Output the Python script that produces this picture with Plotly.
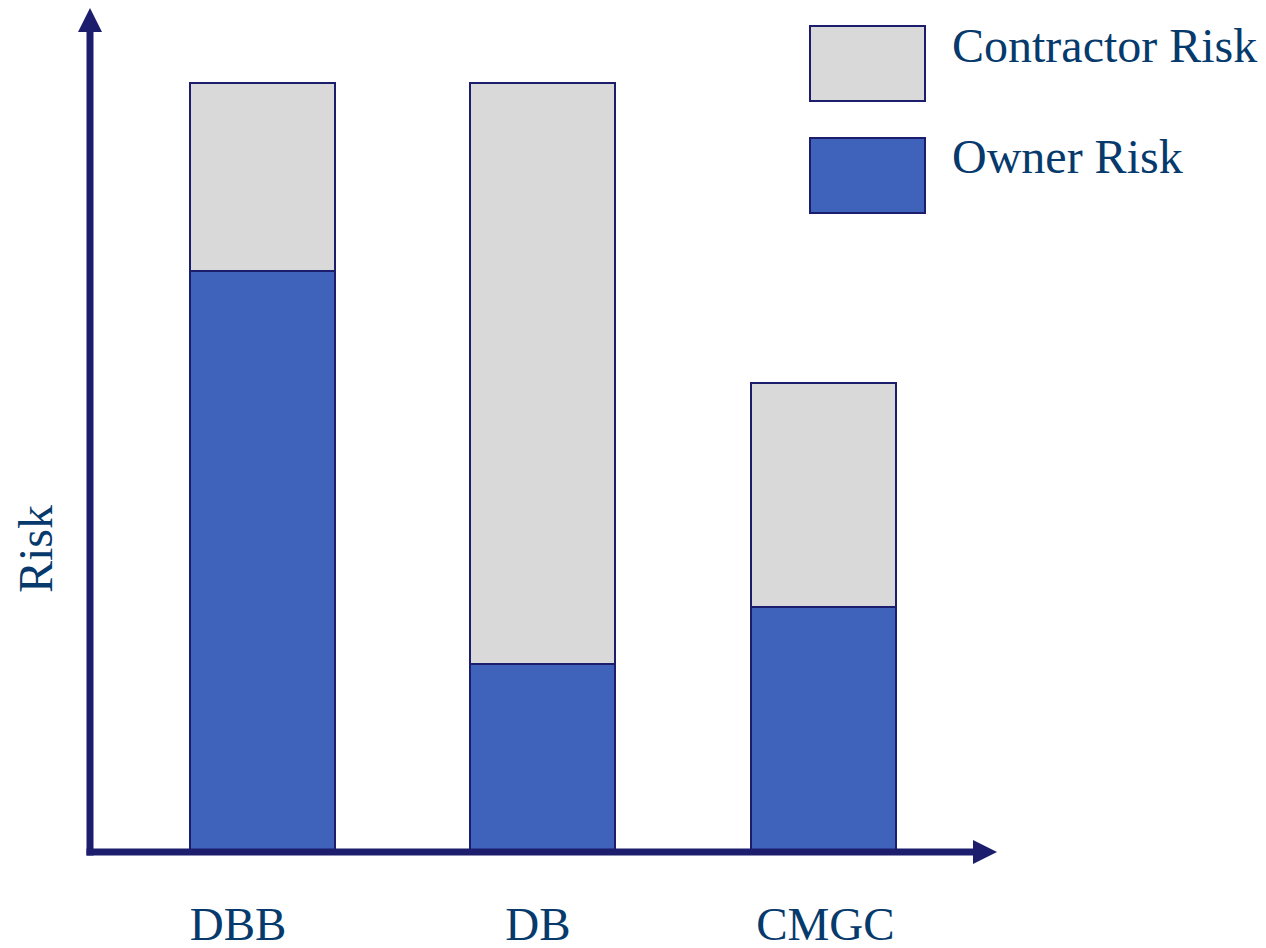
import plotly.graph_objects as go

categories = ["DBB", "DB", "CMGC"]
owner_risk = [75.6, 24.4, 31.8]
contractor_risk = [24.4, 75.6, 29.2]
series_names = ["Contractor Risk", "Owner Risk"]
y_title = "Risk"
label_positions = [-0.087, 0.982, 2.007]  # where the category captions sit (category units)

NAVY = "#1d1d6e"
TEXT = "#063a6c"
BLUE = "#3f62ba"
GREY = "#d9d9d9"
FONT = "Liberation Serif"

W, H = 1266, 948
# plot area in page pixels: x 90..997, y 8..852
L = 90
R = W - 997
T = 8
B = H - 852
PW, PH = W - L - R, H - T - B
XR = [-0.615, 2.619]
xs = list(range(len(categories)))

def px(x):
    return (x - 90) / PW

def py(y):
    return (852 - y) / PH

fig = go.Figure()
fig.add_trace(go.Bar(x=xs, y=owner_risk, name=series_names[1], hovertext=categories,
                     marker=dict(color=BLUE, line=dict(color=NAVY, width=2)),
                     width=0.517, showlegend=False))
fig.add_trace(go.Bar(x=xs, y=contractor_risk, name=series_names[0], hovertext=categories,
                     marker=dict(color=GREY, line=dict(color=NAVY, width=2)),
                     width=0.517, showlegend=False))

shapes = []
shapes.append(dict(type="line", xref="paper", yref="paper", x0=0, x1=0,
                   y0=py(855.5), y1=py(30), line=dict(color=NAVY, width=7), layer="above"))
shapes.append(dict(type="path", xref="paper", yref="paper",
                   path=f"M {px(90)},{py(8)} L {px(78)},{py(32)} L {px(102)},{py(32)} Z",
                   fillcolor=NAVY, line=dict(width=0), layer="above"))
shapes.append(dict(type="line", xref="paper", yref="paper", x0=px(86.5), x1=px(975),
                   y0=0, y1=0, line=dict(color=NAVY, width=7), layer="above"))
shapes.append(dict(type="path", xref="paper", yref="paper",
                   path=f"M {px(997)},{py(852)} L {px(973)},{py(840)} L {px(973)},{py(864)} Z",
                   fillcolor=NAVY, line=dict(width=0), layer="above"))
legend_colors = [GREY, BLUE]
legend_tops = [26, 138]
for c, t in zip(legend_colors, legend_tops):
    shapes.append(dict(type="rect", xref="paper", yref="paper",
                       x0=px(810), x1=px(925), y0=py(t + 75), y1=py(t),
                       fillcolor=c, line=dict(color=NAVY, width=2)))

annotations = []
for name, t in zip(series_names, legend_tops):
    annotations.append(dict(xref="paper", yref="paper", x=px(950), y=py(t + 19),
                            text=name, showarrow=False, xanchor="left", yanchor="middle",
                            font=dict(family=FONT, size=48, color=TEXT)))
annotations.append(dict(xref="paper", yref="paper", x=px(35), y=py(549), text=y_title,
                        textangle=-90, showarrow=False, xanchor="center", yanchor="middle",
                        font=dict(family=FONT, size=48, color=TEXT)))

fig.update_layout(
    width=W, height=H,
    margin=dict(l=L, r=R, t=T, b=B, pad=0),
    paper_bgcolor="white", plot_bgcolor="white",
    barmode="stack",
    showlegend=False,
    shapes=shapes,
    annotations=annotations,
    xaxis=dict(type="linear", range=XR, showline=False, showgrid=False,
               zeroline=False, ticks="",
               tickmode="array", tickvals=label_positions, ticktext=categories,
               ticklabelstandoff=40, automargin=False,
               tickfont=dict(family=FONT, size=47, color=TEXT)),
    yaxis=dict(range=[0, 109.75], showline=False, showgrid=False, zeroline=False,
               showticklabels=False, ticks="", automargin=False),
)

fig.write_html("out.html", config={"displayModeBar": False}, post_script=(
    "document.documentElement.style.margin='0';"
    "document.documentElement.style.overflow='hidden';"
    "document.body.style.margin='0';"
    "document.body.style.overflow='hidden';"
))
